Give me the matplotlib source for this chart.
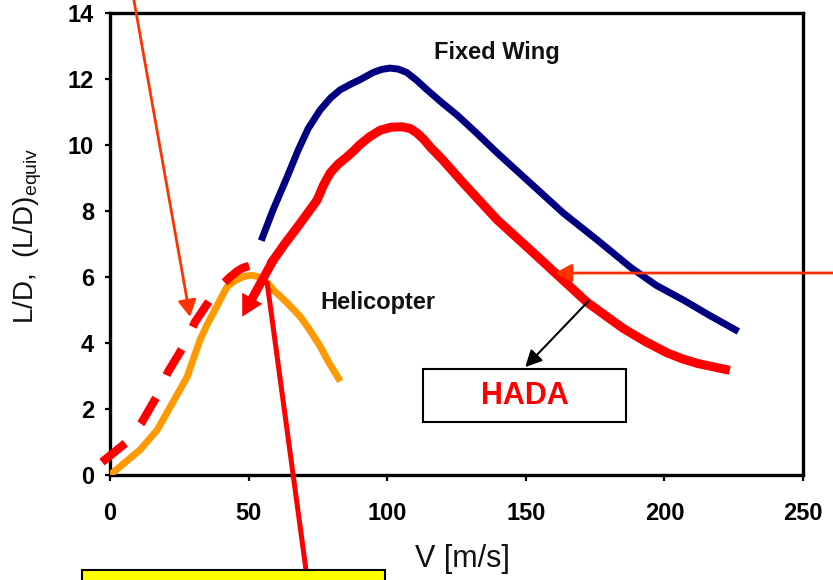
import matplotlib
matplotlib.use("Agg")
import matplotlib.pyplot as plt
from matplotlib.patches import Rectangle

plt.rcParams['font.family'] = ['Liberation Sans', 'DejaVu Sans']
plt.rcParams['mathtext.default'] = 'regular'

# ---- data ----
fixed_v = [55, 58.8, 63.9, 67.9, 71.5, 75.8, 79.5, 83, 87, 90, 95, 98, 101, 104, 107,
           110.5, 114.4, 119.5, 125.3, 132, 139.7, 151.6, 163.5, 175.8, 187.7, 197,
           206.9, 216, 225.6]
fixed_ld = [7.2, 8.03, 9.03, 9.85, 10.5, 11.06, 11.42, 11.67, 11.85, 11.97, 12.2, 12.29,
            12.33, 12.3, 12.2, 11.97, 11.67, 11.3, 10.9, 10.38, 9.76, 8.85, 7.94, 7.12,
            6.3, 5.75, 5.3, 4.85, 4.4]

hada_v = [58.8, 63, 67.5, 71, 74.7, 77, 79.4, 82.3, 85.5, 88, 90, 93.5, 97.5, 101.5,
          105.4, 108.3, 110.8, 113.2, 115.5, 120, 127.4, 139.7, 151.6, 163.5, 172,
          185, 193, 201, 206.5, 212, 222]
hada_ld = [6.5, 7.0, 7.5, 7.9, 8.33, 8.78, 9.15, 9.42, 9.64, 9.83, 10.0, 10.24, 10.45,
           10.54, 10.55, 10.5, 10.36, 10.17, 9.94, 9.55, 8.85, 7.73, 6.82, 5.9, 5.24,
           4.45, 4.05, 3.7, 3.52, 3.38, 3.2]
hada_tip = (47.7, 4.8)

heli_v = [0, 5, 10.8, 17, 21.7, 25, 27.8, 30, 32.5, 35, 37.2, 40, 42.2, 45, 47, 49,
          51, 53, 55, 57, 59, 63.5, 68.6, 72, 75.8, 79, 82.4]
heli_ld = [0, 0.35, 0.76, 1.36, 2.06, 2.55, 2.97, 3.5, 4.1, 4.55, 4.9, 5.35, 5.7, 5.88,
           5.97, 6.03, 6.05, 6.02, 5.95, 5.8, 5.6, 5.25, 4.8, 4.4, 3.9, 3.4, 2.93]

hada_heli_v = [-2.9, 6.1, 11.5, 17, 20.9, 26.4, 30.7, 36.8, 40, 43.3, 46, 48, 50.5, 52.5]
hada_heli_ld = [0.39, 1.0, 1.6, 2.4, 3.12, 3.88, 4.64, 5.4, 5.73, 6.0, 6.18, 6.28, 6.34,
                6.36]

x_ticks = [0, 50, 100, 150, 200, 250]
y_ticks = [0, 2, 4, 6, 8, 10, 12, 14]

# ---- figure ----
W, H = 833, 580
fig = plt.figure(figsize=(W / 100, H / 100), dpi=100)
ax = fig.add_axes([110 / W, 1 - 475 / H, (803 - 110) / W, (475 - 13) / H])
ax.set_xlim(0, 250)
ax.set_ylim(0, 14)

for s in ax.spines.values():
    s.set_linewidth(2.4)
    s.set_color('black')

ax.set_xticks(x_ticks)
ax.set_yticks(y_ticks)
ax.tick_params(axis='x', direction='out', length=4.5, width=1.6, pad=15,
               labelsize=17)
ax.tick_params(axis='y', direction='out', length=3.5, width=1.6, pad=8,
               labelsize=17)
for lab in ax.get_xticklabels() + ax.get_yticklabels():
    lab.set_fontweight('bold')

ax.plot(heli_v, heli_ld, color='#FF9900', lw=5, zorder=3, solid_joinstyle='round')
ax.plot(fixed_v, fixed_ld, color='#000080', lw=5, zorder=3, solid_joinstyle='round')
ax.plot(hada_heli_v, hada_heli_ld, color='#FF0000', lw=6, zorder=4,
        linestyle=(0, (3.6, 3.0)), clip_on=False, dash_joinstyle='round')
ax.plot(hada_v, hada_ld, color='#FF0000', lw=6.5, zorder=5, solid_joinstyle='round')
ax.annotate('', xy=hada_tip, xytext=(hada_v[0], hada_ld[0]),
            arrowprops=dict(arrowstyle='simple,head_length=1.0,head_width=1.1,tail_width=0.43',
                            fc='#FF0000', ec='none', mutation_scale=15,
                            shrinkA=0, shrinkB=0), zorder=5)

ax.text(139.4, 12.79, 'Fixed Wing', fontsize=17, fontweight='bold',
        ha='center', va='center', color='#111111')
ax.text(96.8, 5.24, 'Helicopter', fontsize=17, fontweight='bold',
        ha='center', va='center', color='#111111')

# HADA box
ax.add_patch(Rectangle((113, 1.6), 73, 1.6, fc='white', ec='black', lw=1.5,
                       zorder=6))
ax.text(149.5, 2.4, 'HADA', color='#FF0000', fontsize=22, fontweight='bold',
        ha='center', va='center', zorder=7)

# annotation arrows
ax.annotate('', xy=(28.9, 4.79), xycoords='data', xytext=(133, H + 5),
            textcoords='figure pixels', annotation_clip=False,
            arrowprops=dict(arrowstyle='-|>,head_length=1.0,head_width=0.55',
                            color='#FF3300', lw=2, mutation_scale=10,
                            shrinkA=0, shrinkB=0), zorder=8)
ax.annotate('', xy=(160.6, 6.12), xycoords='data', xytext=(W + 5, H - 273),
            textcoords='figure pixels', annotation_clip=False,
            arrowprops=dict(arrowstyle='-|>,head_length=1.0,head_width=0.55',
                            color='#FF3300', lw=2, mutation_scale=10,
                            shrinkA=0, shrinkB=0), zorder=8)
ax.annotate('', xy=(149.8, 3.27), xycoords='data', xytext=(172.6, 5.27),
            textcoords='data', annotation_clip=False,
            arrowprops=dict(arrowstyle='-|>,head_length=1.0,head_width=0.5',
                            color='black', lw=1.5, mutation_scale=10,
                            shrinkA=0, shrinkB=0), zorder=8)
ax.annotate('', xy=(56.7, 5.82), xycoords='data', xytext=(306, H - 570),
            textcoords='figure pixels', annotation_clip=False,
            arrowprops=dict(arrowstyle='-', color='#FF0000', lw=3.6,
                            shrinkA=0, shrinkB=0), zorder=8)

# yellow box at bottom
fig.patches.append(Rectangle((82 / W, -0.05), (385 - 82) / W, 0.05 + 10 / H,
                             transform=fig.transFigure, fc='#FFFF00', ec='black',
                             lw=1.5, zorder=9))

# axis labels
fig.text(462 / W, 1 - 559 / H, 'V [m/s]', fontsize=22, ha='center', va='center',
         color='#111111')
fig.text(28 / W, 1 - 236 / H, r'L/D,  (L/D)$_{equiv}$', fontsize=20, rotation=90,
         ha='center', va='center', color='#111111')

fig.savefig('out.png', dpi=100)
